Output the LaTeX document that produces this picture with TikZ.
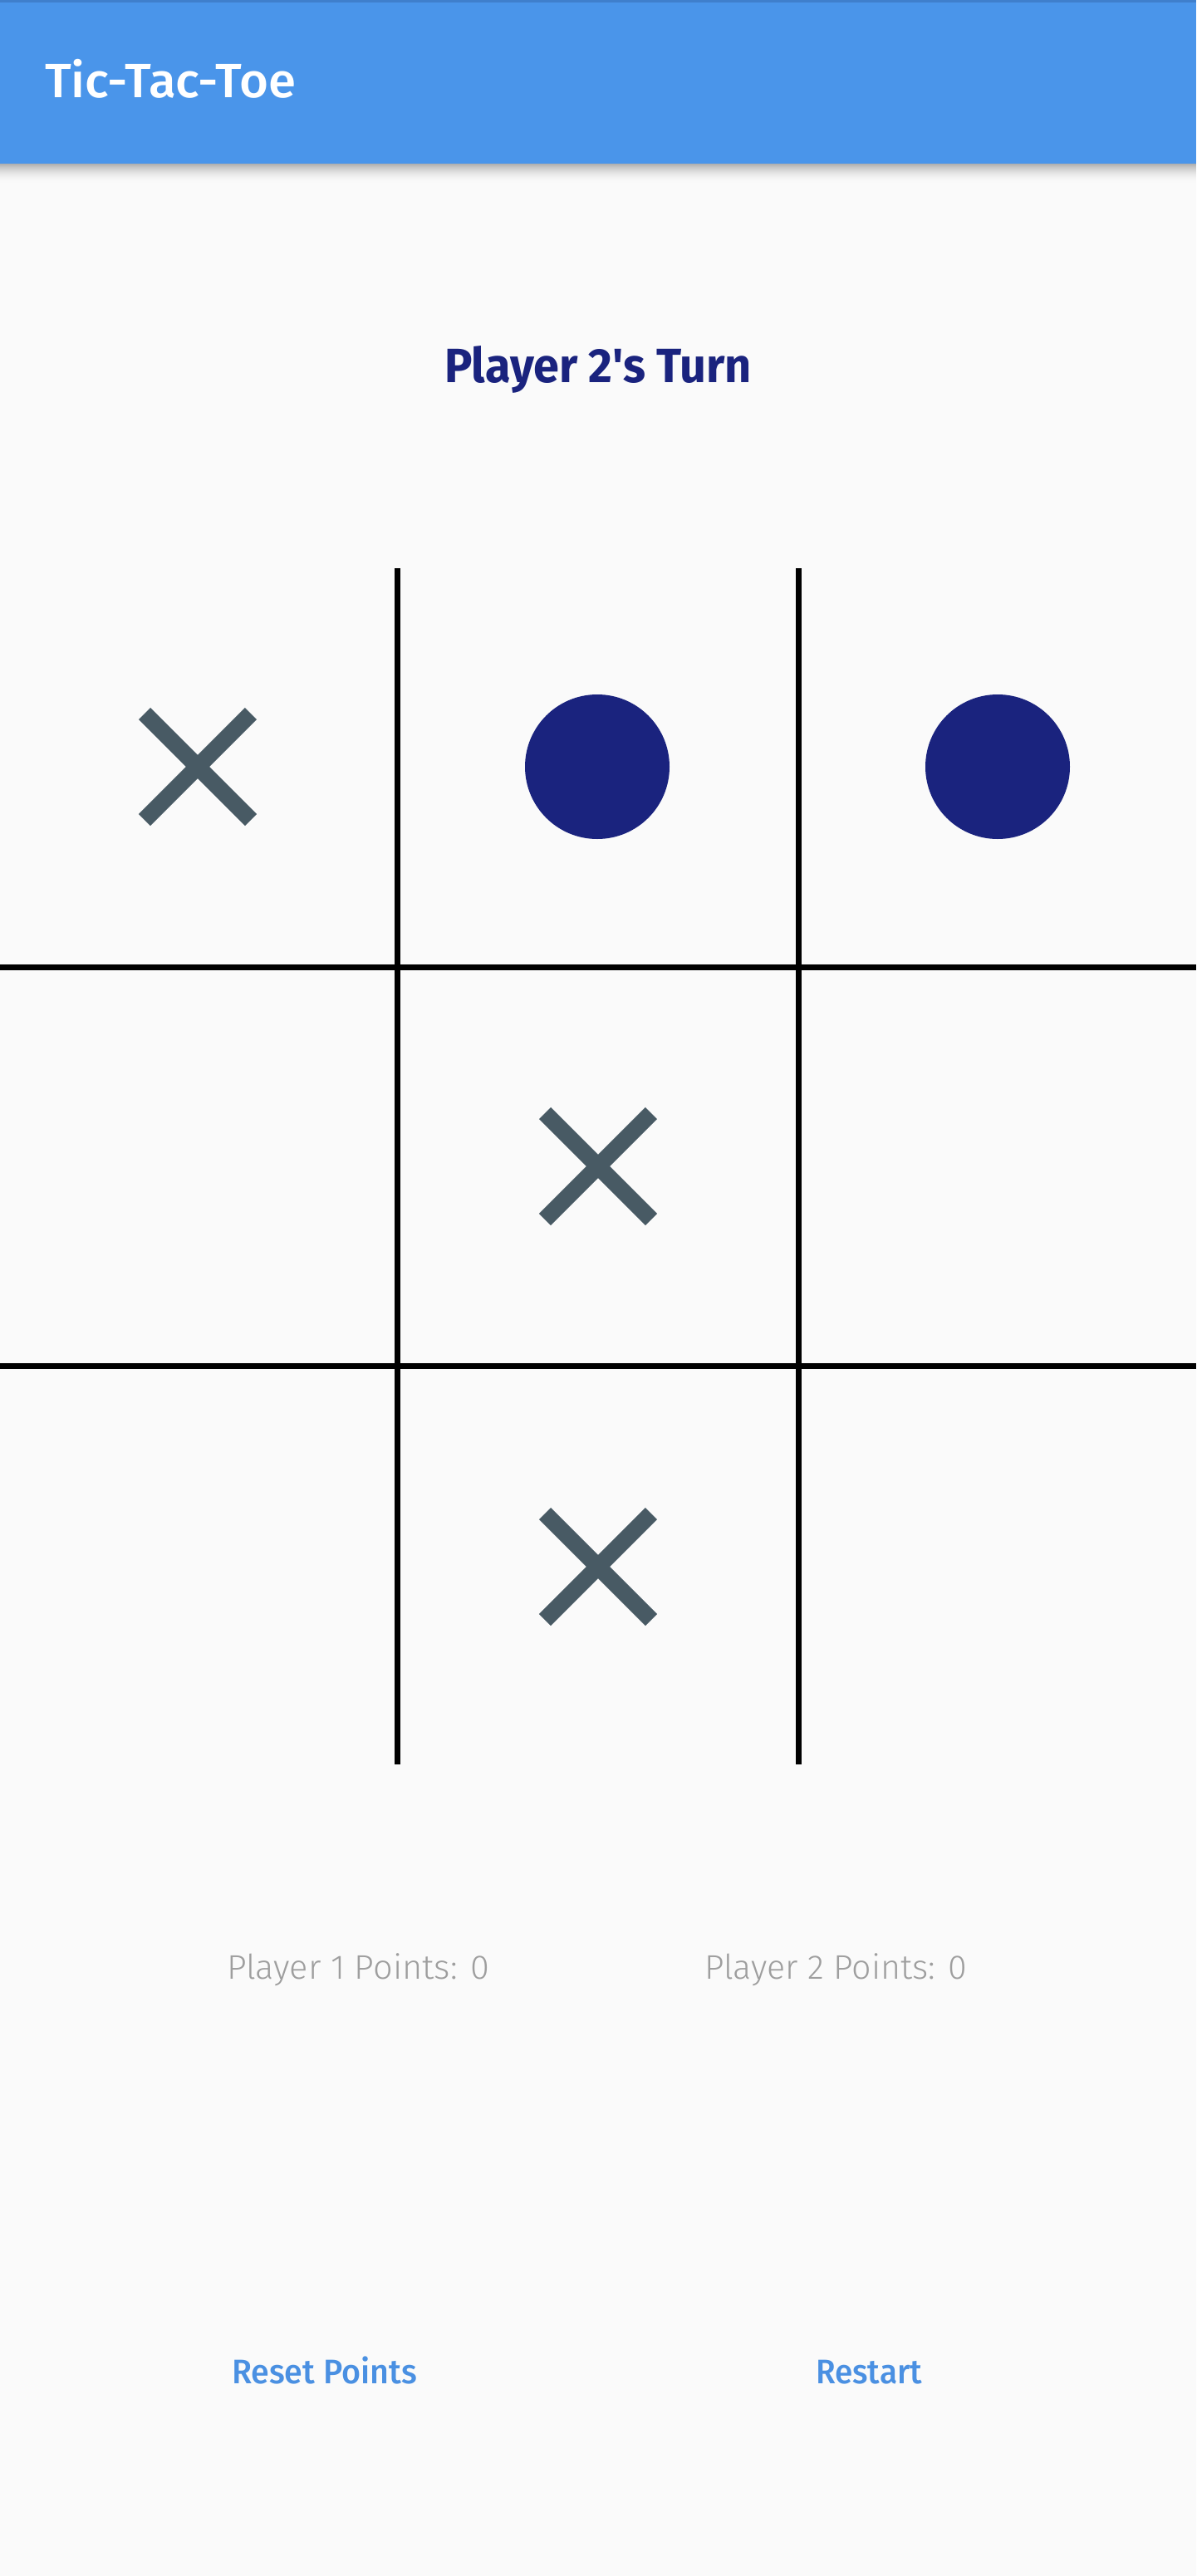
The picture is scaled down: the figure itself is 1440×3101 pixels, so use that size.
\documentclass[tikz,border=0pt]{standalone}
\usepackage{fontspec}
\usepackage{graphicx}
\setmainfont{Fira Sans}
\newfontfamily\fmed{Fira Sans Medium}
\newfontfamily\flight{Fira Sans Light}
\newfontfamily\fbold{Fira Sans Bold}
\definecolor{bg}{HTML}{FAFAFA}
\definecolor{barc}{HTML}{4A95EA}
\definecolor{bartop}{HTML}{3F7FCC}
\definecolor{navy}{HTML}{1A237E}
\definecolor{xcol}{HTML}{485A64}
\definecolor{greytext}{HTML}{9E9E9E}
\definecolor{btnblue}{HTML}{4A90E2}
\newcommand{\fitw}[2]{\resizebox{#1}{\height}{#2}}
\tikzset{
  gridline/.style={line width=7pt, black},
  xstroke/.style={line width=20pt, xcol, line cap=butt},
  ofill/.style={fill=navy},
  txt/.style={inner sep=0pt, outer sep=0pt},
  xmark/.pic={\draw[xstroke] (-64,-64) -- (64,64) (-64,64) -- (64,-64);}
}
\begin{document}
\begin{tikzpicture}[x=1pt,y=-1pt]
\useasboundingbox (0,0) rectangle (1440,3101);
\fill[bg] (0,0) rectangle (1440,3101);
% shadow of app bar
\foreach \i in {0,...,23}{
  \pgfmathsetmacro\op{0.30*(1-\i/24)^2}
  \fill[black, opacity=\op] (0,{197+\i}) rectangle (1440,{198+\i});
}
\fill[barc] (0,0) rectangle (1440,197);
\fill[bartop] (0,0) rectangle (1440,3);
\node[txt, anchor=base west, text=white, font=\fmed\fontsize{58pt}{60pt}\selectfont] (apptitle) at (54,118) {\fitw{302pt}{Tic-Tac-Toe}};
\node[txt, anchor=base, text=navy, font=\fbold\fontsize{58pt}{60pt}\selectfont] (turn) at (720,460) {\fitw{370pt}{Player 2's Turn}};
% grid
\coordinate (v1t) at (478,684); \coordinate (v1b) at (478,2124);
\coordinate (v2t) at (961,684); \coordinate (v2b) at (961,2124);
\coordinate (h1l) at (0,1164); \coordinate (h1r) at (1440,1164);
\coordinate (h2l) at (0,1644); \coordinate (h2r) at (1440,1644);
\draw[gridline] (v1t) -- (v1b);
\draw[gridline] (v2t) -- (v2b);
\draw[gridline] (h1l) -- (h1r);
\draw[gridline] (h2l) -- (h2r);
% marks
\pic at (238,923) {xmark};
\fill[ofill] (719,923) circle (87pt);
\fill[ofill] (1201,923) circle (87pt);
\pic at (720,1404) {xmark};
\pic at (720,1886) {xmark};
% points
\node[txt, anchor=base west, text=greytext, font=\flight\fontsize{41pt}{43pt}\selectfont] (p1) at (273,2382) {\fitw{316pt}{Player 1 Points: 0}};
\node[txt, anchor=base west, text=greytext, font=\flight\fontsize{41pt}{43pt}\selectfont] (p2) at (848,2382) {\fitw{316pt}{Player 2 Points: 0}};
% buttons
\node[txt, anchor=base west, text=btnblue, font=\fmed\fontsize{41pt}{43pt}\selectfont] (reset) at (279,2869) {\fitw{223pt}{Reset Points}};
\node[txt, anchor=base west, text=btnblue, font=\fmed\fontsize{41pt}{43pt}\selectfont] (restart) at (982,2869) {\fitw{128pt}{Restart}};
\end{tikzpicture}
\end{document}
